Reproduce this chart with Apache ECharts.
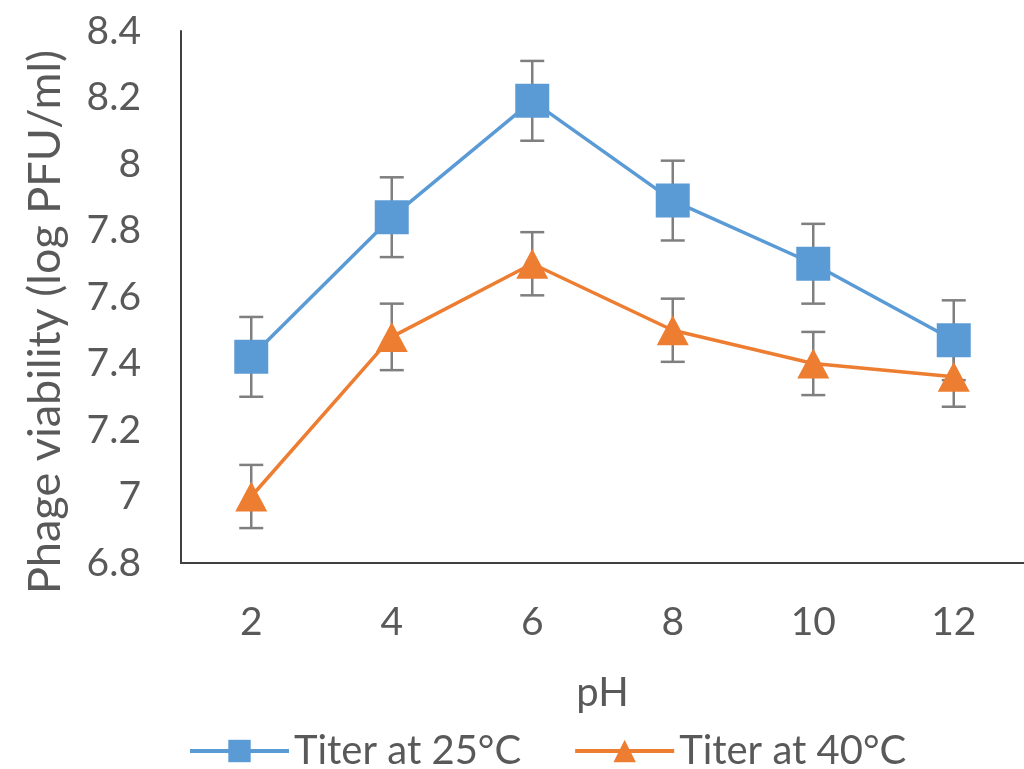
<!DOCTYPE html>
<html>
<head>
<meta charset="utf-8">
<script src="https://cdn.jsdelivr.net/npm/echarts@6/dist/echarts.min.js"></script>
<style>
html,body{margin:0;padding:0;background:#fff;}
#chart{width:1024px;height:769px;}
</style>
</head>
<body>
<div id="chart"></div>
<script>
const categories = ['2', '4', '6', '8', '10', '12'];
const titer25 = [7.42, 7.84, 8.19, 7.89, 7.70, 7.47];
const titer25Err = [0.12, 0.12, 0.12, 0.12, 0.12, 0.12];
const titer40 = [7.00, 7.48, 7.70, 7.50, 7.40, 7.36];
const titer40Err = [0.095, 0.10, 0.095, 0.095, 0.095, 0.09];
const seriesNames = ['Titer at 25\u00B0C', 'Titer at 40\u00B0C'];
const xTitle = 'pH';
const yTitle = 'Phage viability (log PFU/ml)';

const FONT = 'Lato';
const TXT = '#595959';
const BLUE = '#5B9BD5';
const ORANGE = '#ED7D31';
const FS = 39;

function errData(vals, errs) {
  return vals.map((v, i) => [i, v - errs[i], v + errs[i]]);
}
function errSeries(vals, errs) {
  return {
    type: 'custom',
    silent: true,
    z: 1,
    data: errData(vals, errs),
    renderItem: function (params, api) {
      const lo = api.coord([api.value(0), api.value(1)]);
      const hi = api.coord([api.value(0), api.value(2)]);
      const w = 12;
      const st = { stroke: '#7f7f7f', lineWidth: 2.5 };
      return {
        type: 'group',
        children: [
          { type: 'line', shape: { x1: hi[0], y1: hi[1], x2: lo[0], y2: lo[1] }, style: st },
          { type: 'line', shape: { x1: hi[0] - w, y1: hi[1], x2: hi[0] + w, y2: hi[1] }, style: st },
          { type: 'line', shape: { x1: lo[0] - w, y1: lo[1], x2: lo[0] + w, y2: lo[1] }, style: st }
        ]
      };
    }
  };
}

const chart = echarts.init(document.getElementById('chart'));
chart.setOption({
  animation: false,
  backgroundColor: '#fff',
  textStyle: { fontFamily: FONT },
  grid: { left: 181, right: -6, top: 31, bottom: 206, containLabel: false },
  graphic: [{
    type: 'text',
    x: 45,
    y: 322,
    rotation: Math.PI / 2,
    style: {
      text: yTitle,
      font: '45px Lato',
      fill: TXT,
      align: 'center',
      verticalAlign: 'middle',
      textAlign: 'center',
      textVerticalAlign: 'middle'
    }
  }],
  legend: {
    data: seriesNames,
    left: 183,
    top: 726,
    itemWidth: 99,
    itemHeight: 28,
    itemGap: 52,
    lineStyle: { width: 4 },
    textStyle: { fontFamily: FONT, fontSize: 40, color: TXT }
  },
  xAxis: {
    type: 'category',
    data: categories,
    boundaryGap: true,
    name: xTitle,
    nameLocation: 'middle',
    nameGap: 110,
    nameTextStyle: { fontFamily: FONT, fontSize: 40, color: TXT },
    axisLine: { lineStyle: { color: '#404040', width: 2 } },
    axisTick: { show: false },
    axisLabel: { fontFamily: FONT, fontSize: FS, color: TXT, margin: 40 },
    splitLine: { show: false }
  },
  yAxis: {
    type: 'value',
    min: 6.8,
    max: 8.4,
    interval: 0.2,
    axisLine: { show: true, lineStyle: { color: '#404040', width: 2 } },
    axisTick: { show: false },
    axisLabel: {
      fontFamily: FONT, fontSize: FS, color: TXT, margin: 40,
      formatter: function (v) { return String(parseFloat(v.toFixed(1))); }
    },
    splitLine: { show: false }
  },
  series: [
    errSeries(titer25, titer25Err),
    errSeries(titer40, titer40Err),
    {
      name: seriesNames[0],
      type: 'line',
      data: titer25,
      z: 3,
      symbol: 'rect',
      symbolSize: 34,
      itemStyle: { color: BLUE },
      lineStyle: { color: BLUE, width: 3.5 }
    },
    {
      name: seriesNames[1],
      type: 'line',
      data: titer40,
      z: 3,
      symbol: 'triangle',
      symbolSize: [32, 30],
      itemStyle: { color: ORANGE },
      lineStyle: { color: ORANGE, width: 3.5 }
    }
  ]
});
</script>
</body>
</html>
